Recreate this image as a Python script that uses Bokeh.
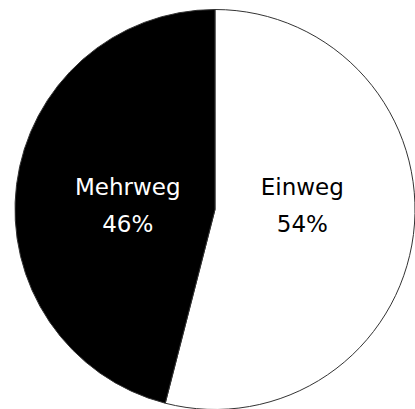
import math
from bokeh.plotting import figure
from bokeh.models import Range1d, ColumnDataSource
from bokeh.embed import file_html
from bokeh.resources import INLINE
from bokeh.core.properties import value

categories = ["Einweg", "Mehrweg"]
shares = [54, 46]
pct_labels = ["54%", "46%"]
fill_colors = ["white", "black"]
text_colors = ["black", "white"]

R = 200
total = sum(shares)
starts, ends, mids = [], [], []
# Einweg clockwise from top, Mehrweg anticlockwise from top
e_start = math.pi / 2 - 2 * math.pi * shares[0] / total
starts.append(e_start); ends.append(math.pi / 2); mids.append((e_start + math.pi / 2) / 2)
m_end = math.pi / 2 + 2 * math.pi * shares[1] / total
starts.append(math.pi / 2); ends.append(m_end); mids.append((math.pi / 2 + m_end) / 2)

src = ColumnDataSource(dict(cat=categories, start=starts, end=ends, fill=fill_colors))

p = figure(width=415, height=409, output_backend="svg", toolbar_location=None,
           x_range=Range1d(-214.5, 200.5), y_range=Range1d(-200, 209),
           min_border=0)
p.axis.visible = False
p.grid.visible = False
p.outline_line_color = None
p.background_fill_color = "white"

p.wedge(x=0, y=0, radius=R, start_angle="start", end_angle="end",
        fill_color="fill", line_color="#333333", line_width=1, source=src)

lx = [0.44 * R * math.cos(m) for m in mids]
lsrc = ColumnDataSource(dict(x=lx, name=categories, pct=pct_labels, col=text_colors))
p.text(x="x", y=0, text="name", source=lsrc, text_color="col",
       text_font=value("DejaVu Sans"), text_font_size="23px",
       text_align="center", text_baseline="alphabetic", y_offset=-23)
p.text(x="x", y=0, text="pct", source=lsrc, text_color="col",
       text_font=value("DejaVu Sans"), text_font_size="23px",
       text_align="center", text_baseline="alphabetic", y_offset=14)

open("out.html", "w").write(file_html(p, INLINE))
